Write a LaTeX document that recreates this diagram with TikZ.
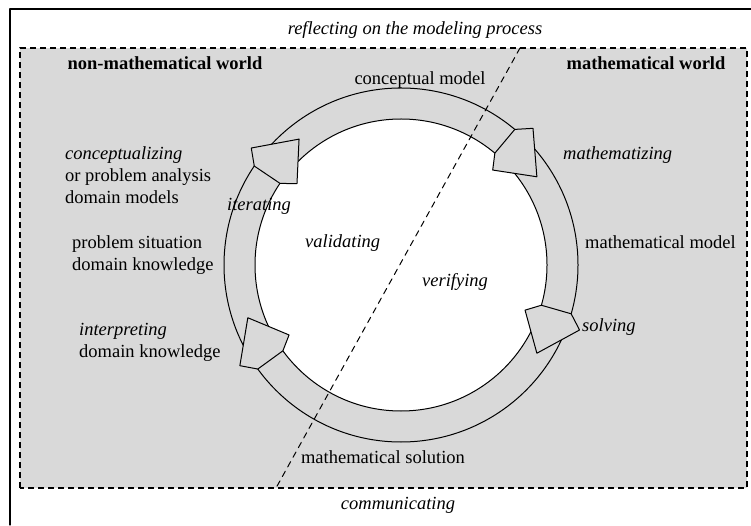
\documentclass[tikz,border=0pt]{standalone}
\usepackage{fontspec}
\setmainfont{Liberation Serif}
\definecolor{litegray}{rgb}{0.85,0.85,0.85}

\begin{document}
\begin{tikzpicture}[line cap=round,line join=round,x=1pt,y=1pt,font=\fontsize{18.5}{22}\selectfont,every node/.style={inner sep=0pt}]
    \useasboundingbox (0,0) rectangle (751,525);

    \draw [line width=1.2pt] (10,0) -- (10,516) -- (751,516);

    \draw [line width=1.3pt,line cap=butt,dash pattern=on 6pt off 4pt,fill=litegray] (20,37) rectangle (747,477);

    \coordinate (c) at (401,260);
    \fill [white] (c) circle (146pt);
    \draw [line width=1pt] (c) circle (177pt);
    \draw [line width=1pt] (c) circle (146pt);

    \foreach \a in {146,50,-16,216}
        \draw [line width=1pt,fill=litegray,shift={(c)}] (\a:146pt) -- ({\a-4}:132pt) -- ({\a-17}:162pt) -- ({\a-4}:190pt) -- (\a:177pt) -- cycle;

    \coordinate (split top) at (520,477);
    \coordinate (split bottom) at (276,37);
    \draw [line width=1pt,dash pattern=on 6pt off 5pt] (split top) -- (split bottom);

    \node (reflecting) at (415,495) {\textit{reflecting on the modeling process}};
    \node (nonmath) at (165,462) {\textbf{non-mathematical world}};
    \node (math) at (646,462) {\textbf{mathematical world}};
    \node (concmodel) at (420,445) {conceptual model};

    \node [anchor=west,align=left] (conceptualizing) at (65,350) {\textit{conceptualizing}\\or problem analysis\\domain models};
    \node [anchor=west] (iterating) at (227,319) {\textit{iterating}};
    \node [anchor=west,align=left] (situation) at (72,270) {problem situation\\domain knowledge};
    \node [anchor=west] (validating) at (305,282) {\textit{validating}};
    \node [anchor=west,align=left] (interpreting) at (79,183) {\textit{interpreting}\\domain knowledge};

    \node [anchor=west] (mathematizing) at (563,370) {\textit{mathematizing}};
    \node [anchor=west] (mathmodel) at (585,283) {mathematical model};
    \node [anchor=west] (verifying) at (422,243) {\textit{verifying}};
    \node [anchor=west] (solving) at (582,198) {\textit{solving}};

    \node (mathsolution) at (383,68) {mathematical solution};
    \node (communicating) at (398,20) {\textit{communicating}};
\end{tikzpicture}
\end{document}
